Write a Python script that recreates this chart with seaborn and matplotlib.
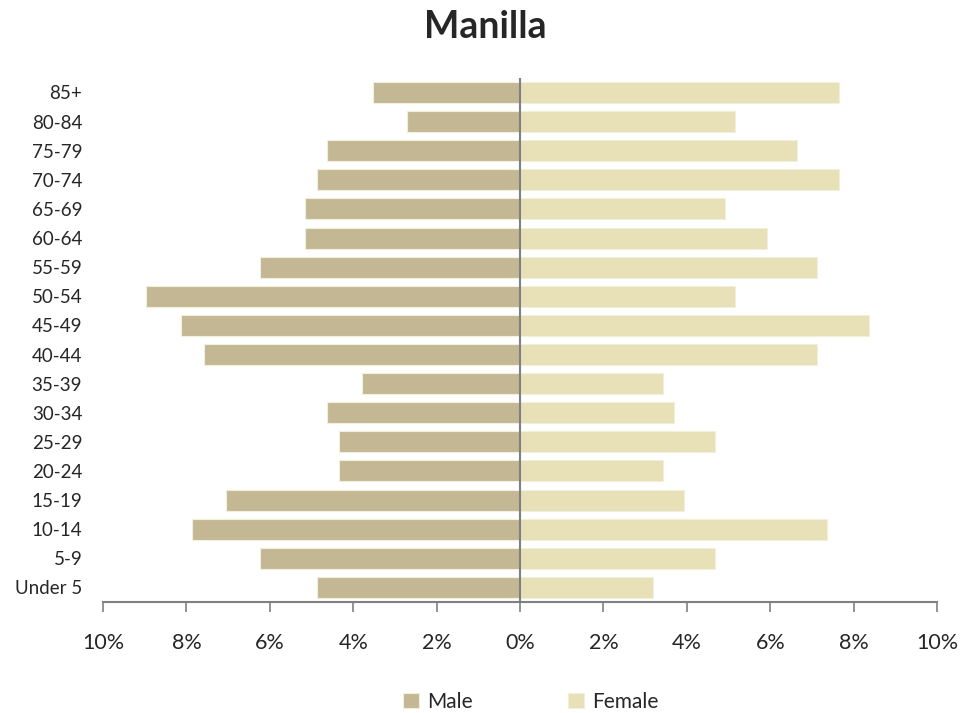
"""
Population pyramid for Manilla
"""
import numpy as np
import pandas as pd
import matplotlib
matplotlib.use("Agg")
import matplotlib.pyplot as plt
from matplotlib.ticker import FuncFormatter, MultipleLocator
import seaborn as sns

# age groups, top to bottom
age_groups = ["85+", "80-84", "75-79", "70-74", "65-69", "60-64", "55-59",
              "50-54", "45-49", "40-44", "35-39", "30-34", "25-29", "20-24",
              "15-19", "10-14", "5-9", "Under 5"]

# percent of population
male = [3.53, 2.70, 4.63, 4.87, 5.15, 5.15, 6.24, 8.97, 8.14, 7.59,
        3.79, 4.63, 4.35, 4.35, 7.04, 7.86, 6.24, 4.87]
female = [7.64, 5.16, 6.64, 7.64, 4.92, 5.92, 7.12, 5.16, 8.37, 7.12,
          3.43, 3.68, 4.68, 3.43, 3.92, 7.36, 4.68, 3.19]

# long format, male to the left
df = pd.DataFrame({
    "age": age_groups * 2,
    "pct": [-v for v in male] + female,
    "sex": ["Male"] * len(male) + ["Female"] * len(female),
})

sns.set_style("white")
plt.rcParams["font.family"] = ["Lato", "DejaVu Sans"]

fig = plt.figure(figsize=(9.79, 7.13), dpi=100)
ax = fig.add_axes([0.1052, 0.1557, 0.852, 0.735])

ax = sns.barplot(data=df, x="pct", y="age", hue="sex", order=age_groups,
                 hue_order=["Male", "Female"], orient="h", dodge=False,
                 palette={"Male": "#C4B794", "Female": "#E8E0B6"},
                 width=0.72, edgecolor="#F3EFDD", linewidth=0.8,
                 saturation=1, ax=ax)

# center line
ax.axvline(0, color="#808080", linewidth=1.5, zorder=5)

ax.set_xlim(-10, 10)
ax.set_ylim(len(age_groups) - 0.5, -0.5)
ax.xaxis.set_major_locator(MultipleLocator(2))
ax.xaxis.set_major_formatter(FuncFormatter(lambda v, p: f"{abs(v):.0f}%"))

for s in ["top", "right", "left"]:
    ax.spines[s].set_visible(False)
ax.spines["bottom"].set_color("#808080")
ax.spines["bottom"].set_linewidth(1.5)

ax.tick_params(axis="x", bottom=True, length=7, width=1.2, color="#808080",
               direction="out", pad=15, labelsize=15.5)
ax.tick_params(axis="y", left=False, length=0, pad=15, labelsize=13.5)
ax.set_xlabel("")
ax.set_ylabel("")

ax.set_title("Manilla", fontsize=27, fontweight="bold", pad=29, x=0.458)

ax.legend(loc="upper center", bbox_to_anchor=(0.513, -0.136), ncol=2,
          frameon=False, fontsize=15, handlelength=0.75, handleheight=0.75,
          handletextpad=0.4, columnspacing=4.6)

fig.savefig("out.png", dpi=100)
